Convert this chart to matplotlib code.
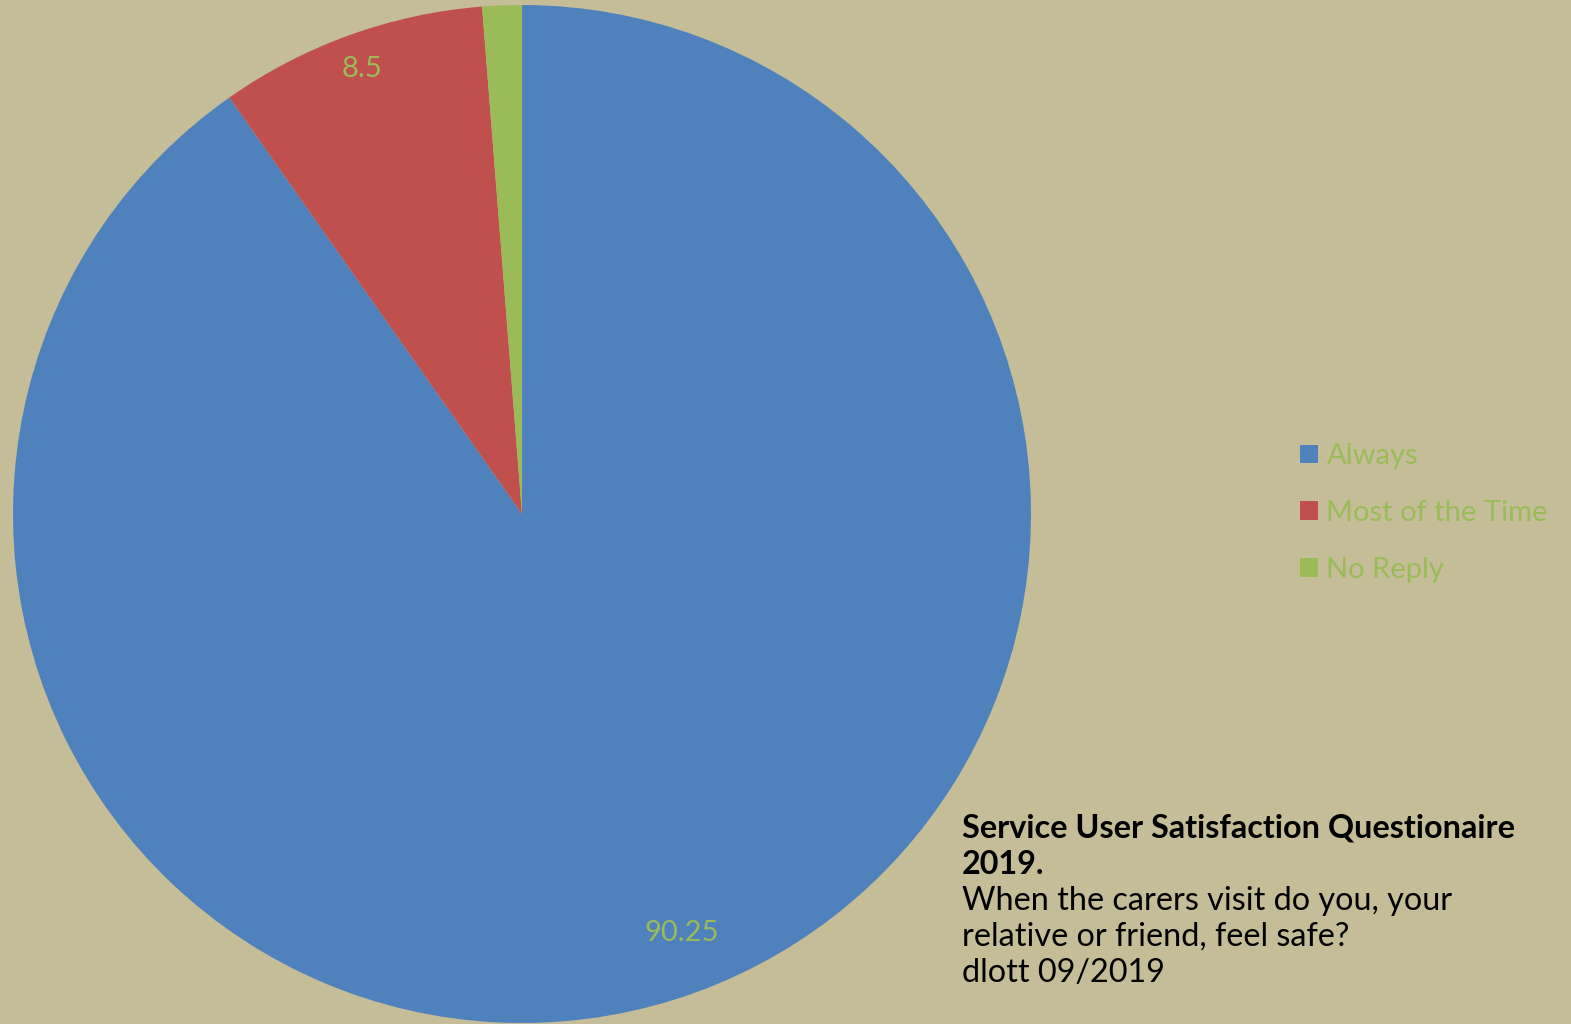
import matplotlib
matplotlib.use("Agg")
import matplotlib.pyplot as plt
import numpy as np

categories = ["Always", "Most of the Time", "No Reply"]
values = [90.25, 8.5, 1.25]
shown_labels = ["90.25", "8.5", None]
colors = ["#4F81BD", "#C0504D", "#9BBB59"]
bg = "#C4BD97"
label_color = "#9BBB59"

note_lines = [
    ("Service User Satisfaction Questionaire", "bold"),
    ("2019.", "bold"),
    ("When the carers visit do you, your", "normal"),
    ("relative or friend, feel safe?", "normal"),
    ("dlott 09/2019", "normal"),
]

plt.rcParams["font.family"] = ["Lato", "DejaVu Sans"]

W, H = 1571, 1024
fig = plt.figure(figsize=(W / 100, H / 100), dpi=100, facecolor=bg)
ax = fig.add_axes([0, 0, 1, 1])
ax.set_facecolor(bg)

cx, cy, R = 522, H - 514, 509
wedges, _ = ax.pie(values, colors=colors, startangle=90, counterclock=False,
                   center=(cx, cy), radius=R, frame=True,
                   wedgeprops=dict(linewidth=0))
ax.set_xlim(0, W)
ax.set_ylim(0, H)
ax.axis("off")

# label placement: (angle offset from wedge middle, radius fraction)
placements = [(3.3, 0.88), (0.0, 0.93), (0.0, 0.9)]
for w, lab, (off, d) in zip(wedges, shown_labels, placements):
    if lab is None:
        continue
    mid = np.deg2rad((w.theta1 + w.theta2) / 2 + off)
    ax.text(cx + d * R * np.cos(mid), cy + d * R * np.sin(mid), lab,
            color=label_color, fontsize=21, ha="center", va="center")

leg = fig.legend(wedges, categories, loc="center left",
                 bbox_to_anchor=(1274 / W, 1 - 513 / H), frameon=False,
                 fontsize=21, handlelength=0.6, handleheight=0.6,
                 handletextpad=0.3, labelspacing=1.05)
for t in leg.get_texts():
    t.set_color(label_color)

fs = 23.3
for i, (line, weight) in enumerate(note_lines):
    fig.text(962 / W, 1 - (827.5 + i * 36.5) / H, line, fontsize=fs,
             fontweight=weight, color="black", ha="left", va="center")

fig.savefig("out.png", dpi=100, facecolor=bg)
